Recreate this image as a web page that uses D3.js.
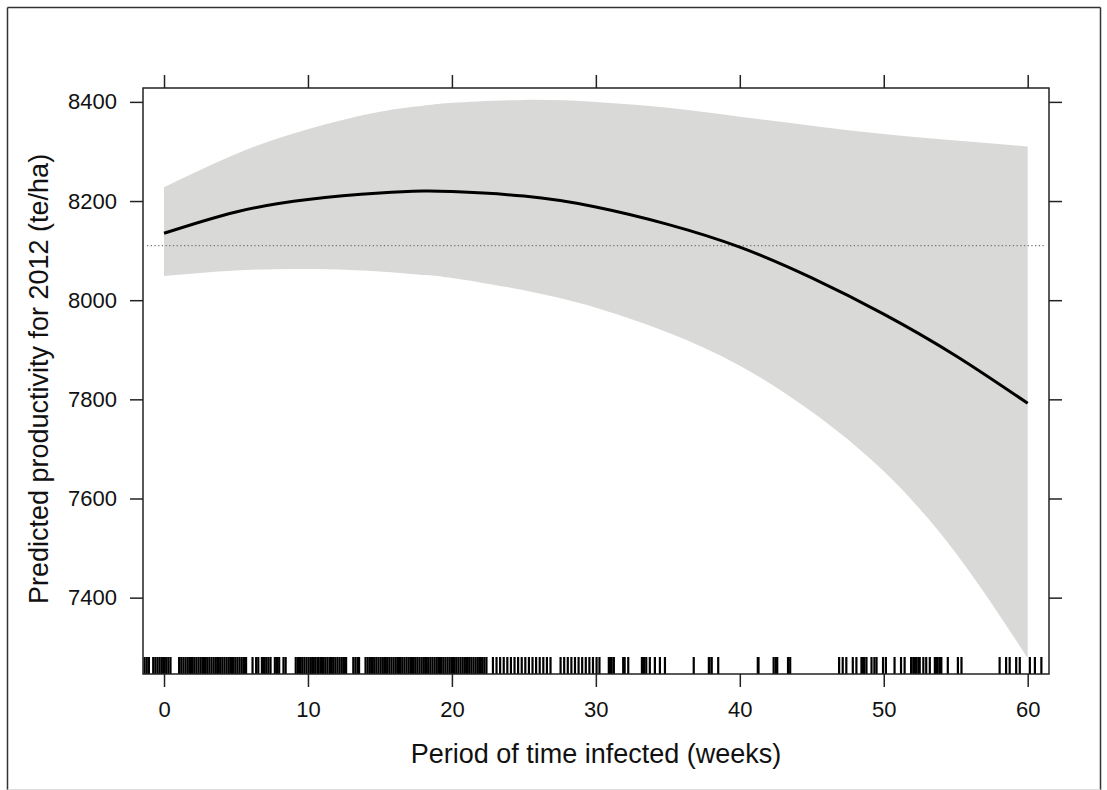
<!DOCTYPE html>
<html>
<head>
<meta charset="utf-8">
<script src="https://cdn.jsdelivr.net/npm/d3@7"></script>
<style>
html,body{margin:0;padding:0;background:#fff;}
svg{display:block;font-family:"Liberation Sans",Arial,sans-serif;}
</style>
</head>
<body>
<svg id="chart" width="1107" height="790"></svg>
<script>
// ---- data ----
const xTicks = [0, 10, 20, 30, 40, 50, 60];
const yTicks = [7400, 7600, 7800, 8000, 8200, 8400];
const weeks  = [0, 5, 10, 15, 18, 20, 25, 30, 35, 40, 45, 50, 55, 60];
const fit    = [8135, 8178, 8203, 8216, 8220, 8219, 8210, 8188, 8153, 8107, 8045, 7972, 7888, 7792];
const upper  = [8228, 8295, 8345, 8380, 8392, 8398, 8404, 8400, 8388, 8370, 8352, 8335, 8322, 8310];
const lower  = [8049, 8060, 8063, 8058, 8051, 8045, 8020, 7985, 7935, 7868, 7775, 7655, 7490, 7278];
const meanLine = 8110;
const rugWeeks = [
 -1.35,-1.2,-1.05,
 -0.75,-0.6,-0.45,-0.3,-0.15,0,0.15,0.3,0.45,
 1.05,1.2,1.35,1.5,1.65,1.8,1.95,2.1,2.25,2.4,2.55,2.7,2.85,3.0,3.15,3.3,3.45,3.6,3.75,3.9,
 4.05,4.2,4.35,4.5,4.65,4.8,4.95,5.1,5.25,5.4,5.55,5.7,
 6.15,6.4,6.55,6.8,6.95,7.1,7.25,7.4,7.7,7.85,8.0,8.3,8.45,
 9.15,9.3,9.45,9.6,9.75,9.9,10.05,10.2,10.35,10.5,10.65,10.75,
 10.9,11.05,11.2,11.35,11.5,11.6,11.75,11.9,12.05,12.2,12.35,12.5,12.65,
 13.15,13.3,13.45,13.55,14.0,14.15,14.3,14.45,14.6,14.75,
 14.9,15.05,15.2,15.35,15.5,15.65,15.8,15.95,16.1,16.25,16.4,16.55,16.7,16.85,17.0,17.15,
 17.3,17.45,17.6,17.75,17.9,18.05,18.2,18.35,18.5,18.65,18.8,18.95,19.1,19.25,19.4,19.55,
 19.7,19.85,20.0,20.15,20.3,20.45,20.6,20.75,20.9,21.05,21.2,21.35,21.5,21.65,21.8,21.95,
 22.1,22.25,22.4,
 22.85,23.1,23.35,23.6,23.85,24.1,24.35,24.6,24.85,25.1,25.35,25.6,25.85,26.1,26.35,26.6,26.85,
 27.55,27.8,28.05,28.3,28.55,28.8,29.05,29.3,29.55,29.8,30.05,30.25,
 30.9,31.0,31.1,31.25,31.9,32.0,32.25,33.2,33.35,33.5,33.75,34.1,34.45,34.8,
 36.8,37.85,37.9,38.05,38.5,41.25,41.3,42.35,42.5,42.6,43.35,43.5,
 46.9,47.15,47.4,47.85,48.1,48.45,48.55,48.65,48.8,49.15,49.35,49.5,49.95,50.15,50.75,
 51.2,51.45,51.9,52.05,52.15,52.25,52.4,52.5,52.75,52.95,53.2,53.55,53.65,53.75,53.9,54.0,
 54.45,55.15,55.4,58.05,58.5,58.75,59.2,59.45,60.15,60.5,60.95
];
const xTitle = "Period of time infected (weeks)";
const yTitle = "Predicted productivity for 2012 (te/ha)";

// ---- layout ----
const L = 143, R = 1049, T = 88, B = 674;
const svg = d3.select("#chart");

const x = d3.scaleLinear().domain([-1.46, 61.48]).range([L, R]);
const y = d3.scaleLinear().domain([7246, 8428]).range([B, T]);

// outer border
svg.append("line").attr("x1",7.5).attr("x2",7.5).attr("y1",7.5).attr("y2",790).attr("stroke","#333").attr("stroke-width",1.5);
svg.append("line").attr("x1",7.5).attr("x2",1100.5).attr("y1",7.5).attr("y2",7.5).attr("stroke","#333").attr("stroke-width",1.5);
svg.append("line").attr("x1",1100.5).attr("x2",1100.5).attr("y1",7.5).attr("y2",790).attr("stroke","#333").attr("stroke-width",1.5);
svg.append("line").attr("x1",7.5).attr("x2",1100.5).attr("y1",789.5).attr("y2",789.5).attr("stroke","#ddd").attr("stroke-width",1);

const rows = weeks.map((w,i)=>({w, f:fit[i], u:upper[i], l:lower[i]}));

// band
svg.append("path")
  .datum(rows)
  .attr("fill","#d9d9d7")
  .attr("d", d3.area().x(d=>x(d.w)).y0(d=>y(d.l)).y1(d=>y(d.u)).curve(d3.curveNatural));

// dotted mean line
svg.append("line")
  .attr("x1", L+4).attr("x2", R-4)
  .attr("y1", y(meanLine)).attr("y2", y(meanLine))
  .attr("stroke","#777").attr("stroke-width",1.3).attr("stroke-dasharray","1.3,2.4");

// fitted line
svg.append("path")
  .datum(rows)
  .attr("fill","none").attr("stroke","#000").attr("stroke-width",3)
  .attr("d", d3.line().x(d=>x(d.w)).y(d=>y(d.f)).curve(d3.curveNatural));

// rug
svg.append("g").selectAll("line").data(rugWeeks).join("line")
  .attr("x1", d=>x(d)).attr("x2", d=>x(d))
  .attr("y1", B).attr("y2", B-17)
  .attr("stroke","#000").attr("stroke-width",2.2);

// frame
svg.append("rect").attr("x",L).attr("y",T).attr("width",R-L).attr("height",B-T)
  .attr("fill","none").attr("stroke","#222").attr("stroke-width",1.5);

function styleAxis(g){
  g.select(".domain").remove();
  g.selectAll(".tick line").attr("stroke","#222").attr("stroke-width",1.5);
  g.selectAll(".tick text").attr("fill","#111").style("font-size","22px").style("font-family",'"Liberation Sans",Arial,sans-serif');
}

svg.append("g").attr("transform",`translate(0,${B})`)
  .call(d3.axisBottom(x).tickValues(xTicks).tickSize(13).tickPadding(14).tickFormat(d3.format("d")))
  .call(styleAxis);
svg.append("g").attr("transform",`translate(0,${T})`)
  .call(d3.axisTop(x).tickValues(xTicks).tickSize(13).tickFormat(""))
  .call(styleAxis);
svg.append("g").attr("transform",`translate(${L},0)`)
  .call(d3.axisLeft(y).tickValues(yTicks).tickSize(13).tickPadding(13).tickFormat(d3.format("d")))
  .call(styleAxis);
svg.append("g").attr("transform",`translate(${R},0)`)
  .call(d3.axisRight(y).tickValues(yTicks).tickSize(13).tickFormat(""))
  .call(styleAxis);

// titles
svg.append("text").attr("x",(L+R)/2).attr("y",763).attr("text-anchor","middle")
  .style("font-size","27px").attr("fill","#111").text(xTitle);
svg.append("text").attr("transform",`translate(48,${(T+B)/2 - 2}) rotate(-90)`).attr("text-anchor","middle")
  .style("font-size","27px").attr("fill","#111").text(yTitle);
</script>
</body>
</html>
